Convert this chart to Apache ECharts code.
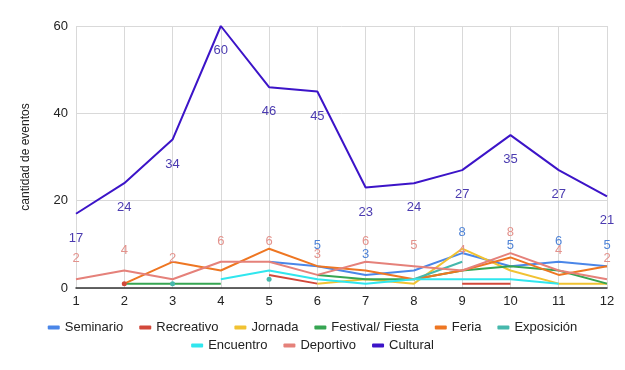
<!DOCTYPE html>
<html>
<head>
<meta charset="utf-8">
<script src="https://cdn.jsdelivr.net/npm/echarts@6/dist/echarts.min.js"></script>
<style>
html,body{margin:0;padding:0;background:#fff;}
#chart{width:625px;height:370px;}
</style>
</head>
<body>
<div id="chart"></div>
<script>
const months = ['1','2','3','4','5','6','7','8','9','10','11','12'];
const seminario  = [null,null,null,null,6,5,3,4,8,5,6,5];
const recreativo = [null,1,null,null,3,1,null,null,1,1,null,null];
const jornada    = [null,null,null,null,null,1,2,1,9,4,1,1];
const festival   = [null,1,1,1,null,3,2,2,4,5,4,1];
const feria      = [null,1,6,4,9,5,4,2,4,7,3,5];
const exposicion = [null,null,1,null,2,null,null,2,6,null,null,null];
const encuentro  = [null,null,null,2,4,2,1,2,2,2,1,null];
const deportivo  = [2,4,2,6,6,3,6,5,4,8,4,2];
const cultural   = [17,24,34,60,46,45,23,24,27,35,27,21];
const yTicks = [0,20,40,60];

const FONT = 'Liberation Sans, Arial, sans-serif';

function build(arr){
  return arr.map((v,i)=>{
    if(v===null) return null;
    const prev = i>0 ? arr[i-1] : null;
    const next = i<arr.length-1 ? arr[i+1] : null;
    if(prev===null && next===null){
      return {value:v, symbolSize:5};
    }
    return v;
  });
}

function mk(name, arr, color, label){
  const s = {
    name, type:'line', data: build(arr), color,
    symbol:'circle', symbolSize:0, showSymbol:true, connectNulls:false,
    lineStyle:{width:2, color},
    itemStyle:{color},
    emphasis:{disabled:true},
    animation:false
  };
  if(label){
    s.label = Object.assign({show:true, fontFamily:FONT, fontSize:13}, label);
  }
  return s;
}

// Seminario labels are hidden where they would collide with the Deportivo label
const seminarioLabel = p => {
  const d = deportivo[p.dataIndex];
  const v = seminario[p.dataIndex];
  return (d !== null && Math.abs(v - d) <= 1) ? '' : String(v);
};

const chart = echarts.init(document.getElementById('chart'), null, {renderer:'canvas'});
const names1 = ['Seminario','Recreativo','Jornada','Festival/ Fiesta','Feria','Exposición'];
const names2 = ['Encuentro','Deportivo','Cultural'];
const legendBase = {
  icon:'roundRect', itemWidth:12, itemHeight:4, itemGap:16,
  textStyle:{fontFamily:FONT, fontSize:13, color:'#222'},
  selectedMode:false, left:'center'
};
chart.setOption({
  backgroundColor:'#fff',
  animation:false,
  grid:{left:76, right:18, top:26, bottom:82},
  legend:[
    Object.assign({}, legendBase, {data:names1, top:316}),
    Object.assign({}, legendBase, {data:names2, top:334})
  ],
  xAxis:{
    type:'category', data:months, boundaryGap:false,
    axisLine:{lineStyle:{color:'#333', width:1.5}},
    axisTick:{show:false},
    axisLabel:{fontFamily:FONT, fontSize:13, color:'#222', margin:7},
    splitLine:{show:true, lineStyle:{color:'#d9d9d9', width:1}}
  },
  yAxis:{
    type:'value', min:yTicks[0], max:yTicks[yTicks.length-1], interval:20,
    name:'cantidad de eventos', nameLocation:'middle', nameGap:44, nameRotate:90,
    nameTextStyle:{fontFamily:FONT, fontSize:12, color:'#222'},
    axisLine:{show:false}, axisTick:{show:false},
    axisLabel:{fontFamily:FONT, fontSize:13, color:'#222', margin:8},
    splitLine:{lineStyle:{color:'#d9d9d9', width:1}}
  },
  series:[
    mk('Seminario', seminario, '#4a86e8', {position:'top', distance:14, color:'#4f83d6', formatter:seminarioLabel}),
    mk('Recreativo', recreativo, '#d2483a'),
    mk('Jornada', jornada, '#f1c232'),
    mk('Festival/ Fiesta', festival, '#36a552'),
    mk('Feria', feria, '#ee7622'),
    mk('Exposición', exposicion, '#46b8ac'),
    mk('Encuentro', encuentro, '#30e6ee'),
    mk('Deportivo', deportivo, '#e5817a', {position:'top', distance:14, color:'#e3928c'}),
    mk('Cultural', cultural, '#3c14c8', {position:'bottom', distance:18, color:'#4b3bb0'})
  ]
});
</script>
</body>
</html>
